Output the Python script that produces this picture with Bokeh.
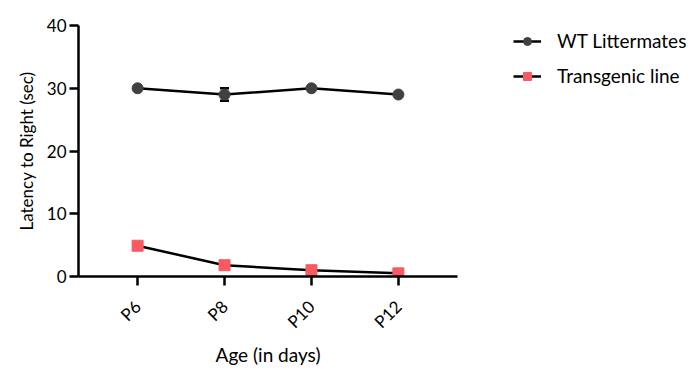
import math
from bokeh.plotting import figure
from bokeh.models import (Range1d, FixedTicker, Legend, LegendItem, Whisker,
                          ColumnDataSource, TeeHead)
from bokeh.embed import file_html
from bokeh.resources import INLINE

ages = ["P6", "P8", "P10", "P12"]
wt_values = [30.0, 29.0, 30.0, 29.0]
wt_errors = [0.0, 1.0, 0.0, 0.0]
tg_values = [4.9, 1.8, 1.0, 0.5]
y_ticks = [0, 10, 20, 30, 40]

FONT = "Lato"
x = list(range(len(ages)))

p = figure(width=684, height=357, output_backend="svg", toolbar_location=None,
           x_range=Range1d(-0.68, 3.68), y_range=Range1d(0, 40),
           frame_width=379, frame_height=251,
           min_border_left=78, min_border_top=25, min_border_right=227,
           min_border_bottom=81)
p.outline_line_color = None
p.xgrid.visible = False
p.ygrid.visible = False
p.background_fill_color = "white"
p.border_fill_color = "white"

for ax in (p.xaxis[0], p.yaxis[0]):
    ax.axis_line_width = 2.5
    ax.axis_line_color = "black"
    ax.major_tick_line_width = 2.5
    ax.major_tick_line_color = "black"
    ax.major_tick_in = 0
    ax.major_tick_out = 9
    ax.minor_tick_line_color = None
    ax.major_label_text_font = FONT
    ax.major_label_text_font_size = "17px"
    ax.major_label_text_color = "black"
    ax.axis_label_text_font = FONT
    ax.axis_label_text_font_style = "normal"
    ax.axis_label_text_color = "black"

p.yaxis.ticker = FixedTicker(ticks=y_ticks)
p.yaxis.major_label_standoff = 3
p.yaxis.axis_label = "Latency to Right (sec)"
p.yaxis.axis_label_text_font_size = "17px"
p.yaxis.axis_label_standoff = 7

p.xaxis.ticker = FixedTicker(ticks=x)
p.xaxis.major_label_overrides = {i: a for i, a in zip(x, ages)}
p.xaxis.major_label_orientation = math.pi / 4
p.xaxis.major_label_standoff = 18
p.xaxis.axis_label = "Age (in days)"
p.xaxis.axis_label_text_font_size = "19px"
p.xaxis.axis_label_standoff = 0

wt_src = ColumnDataSource(dict(
    x=x, y=wt_values,
    upper=[v + e for v, e in zip(wt_values, wt_errors)],
    lower=[v - e for v, e in zip(wt_values, wt_errors)],
))
tg_src = ColumnDataSource(dict(x=x, y=tg_values))

WT_COLOR = "#404040"
TG_COLOR = "#f95a61"

wt_line = p.line("x", "y", source=wt_src, line_color="black", line_width=2.5)
err = Whisker(source=wt_src, base="x", upper="upper", lower="lower",
              dimension="height", line_color="black", line_width=2.5,
              upper_head=TeeHead(size=9, line_width=2.5, line_color="black"),
              lower_head=TeeHead(size=9, line_width=2.5, line_color="black"))
p.add_layout(err)
wt_pts = p.scatter("x", "y", source=wt_src, marker="circle", size=11,
                   fill_color=WT_COLOR, line_color=WT_COLOR)

tg_line = p.line("x", "y", source=tg_src, line_color="black", line_width=2.5)
tg_pts = p.scatter("x", "y", source=tg_src, marker="square", size=11,
                   fill_color=TG_COLOR, line_color=TG_COLOR)

legend = Legend(items=[
    LegendItem(label="WT Littermates", renderers=[wt_line, wt_pts]),
    LegendItem(label="Transgenic line", renderers=[tg_line, tg_pts]),
], location=(56, 189))
legend.border_line_color = None
legend.background_fill_alpha = 0
legend.padding = 0
legend.margin = 0
legend.spacing = 12
legend.glyph_width = 28
legend.glyph_height = 20
legend.label_height = 20
legend.label_standoff = 16
legend.label_text_font = FONT
legend.label_text_font_size = "19px"
legend.label_text_color = "black"
p.add_layout(legend, "right")

open("out.html", "w").write(file_html(p, INLINE))
